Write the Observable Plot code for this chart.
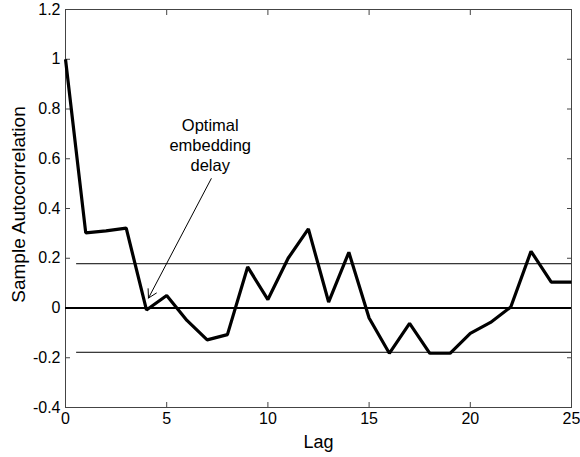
<!DOCTYPE html>
<html>
<head>
<meta charset="utf-8">
<script src="https://cdn.jsdelivr.net/npm/d3@7"></script>
<script src="https://cdn.jsdelivr.net/npm/@observablehq/plot@0.6"></script>
<style>
  html, body { margin: 0; padding: 0; background: #fff; }
  #chart svg { display: block; }
</style>
</head>
<body>
<div id="chart"></div>
<script>
// Data
const lags = [0, 1, 2, 3, 4, 5, 6, 7, 8, 9, 10, 11, 12, 13, 14, 15, 16, 17, 18, 19, 20, 21, 22, 23, 24, 25];
const acf  = [1.0, 0.302, 0.31, 0.321, -0.008, 0.05, -0.05, -0.128, -0.107, 0.165, 0.034, 0.2, 0.318, 0.024, 0.224, -0.04, -0.182, -0.062, -0.182, -0.182, -0.102, -0.058, 0.004, 0.228, 0.104, 0.104];
const bounds = [0.178, -0.178];
const boundStart = [0.55];
const lagTicks = [0, 5, 10, 15, 20, 25];
const acfTicks = [-0.4, -0.2, 0, 0.2, 0.4, 0.6, 0.8, 1, 1.2];
const annotationText = ["Optimal\nembedding\ndelay"];
const annotationFrom = [7.2, 0.52];   // lag, value where the arrow starts
const annotationTo = [4.1, 0.04];     // lag, value where the arrow points
const xLabel = "Lag";
const yLabel = "Sample Autocorrelation";

const series = lags.map((l, i) => ({lag: l, acf: acf[i]}));
const boundRows = bounds.map(b => ({y: b, x1: boundStart[0], x2: lagTicks[lagTicks.length - 1]}));
const fmt = d => String(Math.round(d * 10) / 10);
const font = "'Liberation Sans', Arial, Helvetica, sans-serif";

const chart = Plot.plot({
  width: 580,
  height: 457,
  marginTop: 9,
  marginBottom: 50,
  marginLeft: 65,
  marginRight: 9,
  style: {fontFamily: font, background: "#fff", color: "#000"},
  x: {domain: [0, 25], ticks: lagTicks},
  y: {domain: [-0.4, 1.2], ticks: acfTicks},
  marks: [
    Plot.frame({stroke: "#444", strokeWidth: 1}),
    // inward tick marks on all four sides
    Plot.axisX(lagTicks, {anchor: "bottom", tickSize: -5, text: null, stroke: "#444"}),
    Plot.axisX(lagTicks, {anchor: "top", tickSize: -5, text: null, stroke: "#444", label: null}),
    Plot.axisY(acfTicks, {anchor: "left", tickSize: -5, text: null, stroke: "#444"}),
    Plot.axisY(acfTicks, {anchor: "right", tickSize: -5, text: null, stroke: "#444", label: null}),
    // tick labels
    Plot.axisX(lagTicks, {anchor: "bottom", tickSize: 0, tickPadding: 5, fontSize: 16, tickFormat: fmt, label: null, fill: "#000"}),
    Plot.axisY(acfTicks, {anchor: "left", tickSize: 0, tickPadding: 5, fontSize: 16, tickFormat: fmt, label: null, fill: "#000"}),
    // axis titles
    Plot.text([xLabel], {frameAnchor: "bottom", dy: 35, fontSize: 18, fill: "#000", lineAnchor: "middle", textAnchor: "middle"}),
    Plot.text([yLabel], {frameAnchor: "left", dx: -47, dy: -4, rotate: -90, fontSize: 19, fill: "#000", lineAnchor: "middle", textAnchor: "middle"}),
    // confidence bounds and zero line
    Plot.ruleY(boundRows, {y: "y", x1: "x1", x2: "x2", stroke: "#000", strokeWidth: 1}),
    Plot.ruleY([0], {stroke: "#000", strokeWidth: 2}),
    // autocorrelation
    Plot.line(series, {x: "lag", y: "acf", stroke: "#000", strokeWidth: 3.2, strokeLinejoin: "miter", strokeLinecap: "butt"}),
    // annotation
    Plot.arrow([0], {
      x1: () => annotationFrom[0], y1: () => annotationFrom[1],
      x2: () => annotationTo[0], y2: () => annotationTo[1],
      stroke: "#000", strokeWidth: 1, headLength: 14, bend: 0
    }),
    Plot.text(annotationText, {
      x: () => annotationFrom[0], y: () => annotationFrom[1],
      lineAnchor: "bottom", dx: -1, dy: -8, fontSize: 16.5, lineHeight: 1.2, fill: "#000", textAnchor: "middle"
    })
  ]
});
document.getElementById("chart").appendChild(chart);
</script>
</body>
</html>
